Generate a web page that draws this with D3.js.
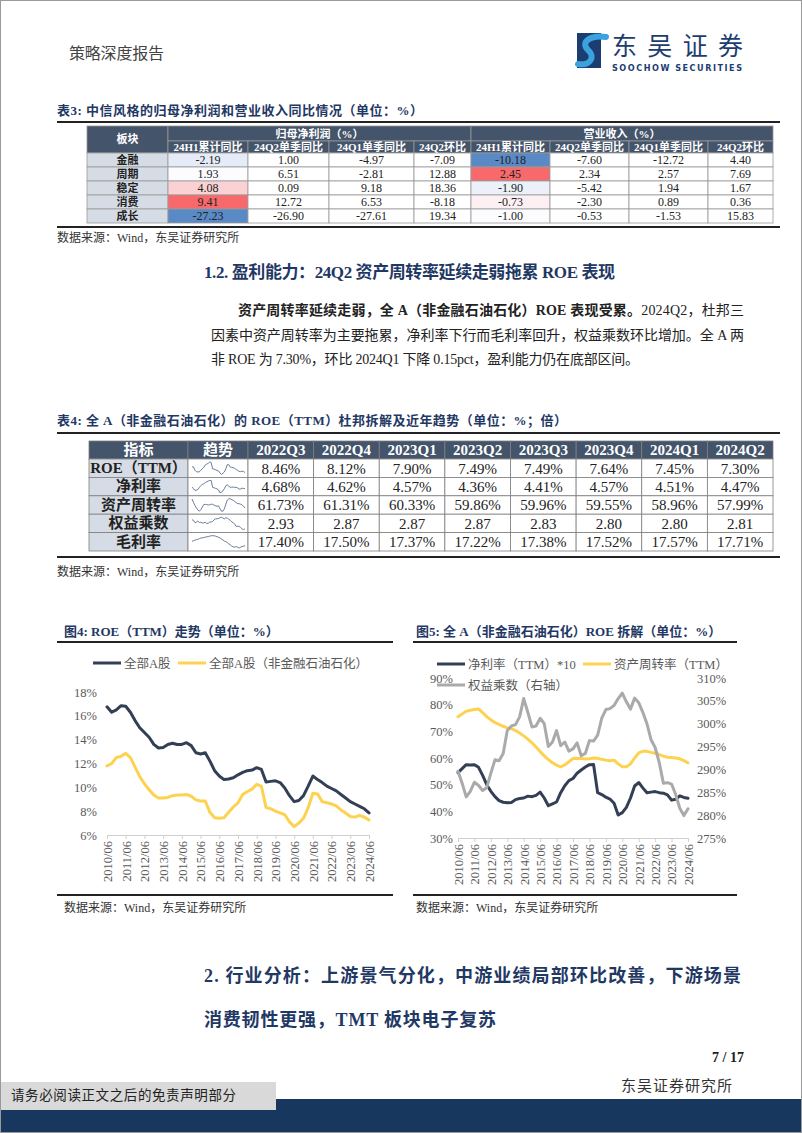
<!DOCTYPE html>
<html><head><meta charset="utf-8">
<script src="https://cdn.jsdelivr.net/npm/d3@7"></script>
<style>body{margin:0;background:#fff}svg{display:block}</style>
</head><body>
<svg id="page" width="802" height="1133"></svg>
<script>
// ================= DATA =================
// Table 3
const t3Boards = ["金融","周期","稳定","消费","成长"];
const t3Groups = ["归母净利润（%）","营业收入（%）"];
const t3SubHeads = ["24H1累计同比","24Q2单季同比","24Q1单季同比","24Q2环比"];
const profit24H1 = [-2.19, 1.93, 4.08, 9.41, -27.23];
const profit24Q2yoy = [1.00, 6.51, 0.09, 12.72, -26.90];
const profit24Q1yoy = [-4.97, -2.81, 9.18, 6.53, -27.61];
const profit24Q2qoq = [-7.09, 12.88, 18.36, -8.18, 19.34];
const rev24H1 = [-10.18, 2.45, -1.90, -0.73, -1.00];
const rev24Q2yoy = [-7.60, 2.34, -5.42, -2.30, -0.53];
const rev24Q1yoy = [-12.72, 2.57, 1.94, 0.89, -1.53];
const rev24Q2qoq = [4.40, 7.69, 1.67, 0.36, 15.83];

// Table 4
const t4Periods = ["2022Q3","2022Q4","2023Q1","2023Q2","2023Q3","2023Q4","2024Q1","2024Q2"];
const t4Indicators = ["ROE（TTM）","净利率","资产周转率","权益乘数","毛利率"];
const t4Roe = [8.46, 8.12, 7.90, 7.49, 7.49, 7.64, 7.45, 7.30];
const t4NetMargin = [4.68, 4.62, 4.57, 4.36, 4.41, 4.57, 4.51, 4.47];
const t4AssetTurn = [61.73, 61.31, 60.33, 59.86, 59.96, 59.55, 58.96, 57.99];
const t4EquityMult = [2.93, 2.87, 2.87, 2.87, 2.83, 2.80, 2.80, 2.81];
const t4GrossMargin = [17.40, 17.50, 17.37, 17.22, 17.38, 17.52, 17.57, 17.71];
// gross margin trend (2015Q2-2024Q2, estimated from sparkline)
const grossTrend = [18.6,18.65,18.8,18.9,18.95,19.1,19.2,19.25,19.3,19.4,19.45,19.5,19.6,19.65,19.7,19.65,19.6,19.5,19.35,19.25,19.0,18.85,18.6,18.5,18.3,18.05,17.85,17.6,17.45,17.40,17.50,17.37,17.22,17.38,17.52,17.57,17.71];

// Charts (quarterly 2010/06 - 2024/06)
const yearLabels = ["2010/06","2011/06","2012/06","2013/06","2014/06","2015/06","2016/06","2017/06","2018/06","2019/06","2020/06","2021/06","2022/06","2023/06","2024/06"];
const roeAll = [16.76,16.3,16.5,16.85,16.8,16.3,15.6,15.0,14.6,14.2,13.6,13.3,13.35,13.6,13.7,13.6,13.6,13.75,13.5,12.9,12.8,12.9,12.2,11.4,10.95,10.65,10.7,10.8,11.05,11.25,11.4,11.45,11.65,11.5,10.45,10.5,10.55,10.4,9.95,9.3,8.8,8.9,9.3,10.1,10.95,10.65,10.4,10.1,9.9,9.7,9.4,9.1,8.8,8.6,8.4,8.2,7.85];
const roeExFin = [11.8,12.0,12.5,12.6,12.85,12.5,11.7,10.9,10.3,9.8,9.35,9.1,9.1,9.15,9.3,9.35,9.35,9.4,9.25,8.95,8.85,8.85,7.9,7.45,7.4,7.45,7.9,8.35,8.7,9.4,9.65,9.85,10.25,10.1,8.3,8.2,8.0,7.85,7.7,7.1,6.7,7.0,7.4,8.3,9.5,9.45,8.8,8.7,8.6,8.45,8.1,7.85,7.55,7.5,7.65,7.5,7.25];
const netMargin10 = [54.5,56,57.5,57.4,57.5,56.5,53.5,50,47.5,45.5,44.0,43.4,43.2,43.3,44.4,44.8,45.0,45.7,45.5,46.0,47.2,45.0,42.1,42.8,43.5,47.0,49.6,51.5,52.3,54.3,55.5,56.6,57.5,57.6,47.0,46.3,45.3,44.6,43.0,38.6,39.5,41.5,45.0,49.5,50.8,48.8,47.0,47.2,47.4,47.0,46.8,46.2,44.2,44.5,45.8,45.2,44.9];
const assetTurn = [75.5,76.5,77.5,77.9,78.2,78.4,77.0,75.5,74.3,73.3,72.6,71.9,71.3,71.0,70.3,69.4,68.3,67.1,65.7,64.1,62.4,60.8,59.4,58.2,57.3,56.7,57.4,58.6,59.8,59.9,59.8,59.6,59.7,60.0,59.9,59.5,59.2,59.0,59.2,57.8,56.7,56.7,57.8,60.0,61.9,62.5,62.5,62.1,61.8,61.3,60.7,60.3,60.2,60.0,59.7,59.0,58.2];
const equityMult = [289.6,287.0,284.0,285.2,287.2,286.5,285.4,286.0,289.2,292.1,291.9,293.5,298.5,299.5,299.8,301.5,305.5,302.5,299.3,299.5,301.2,300.0,295.0,296.0,298.5,295.2,296.0,294.0,294.5,295.8,293.0,293.5,296.3,296.2,297.5,301.2,303.1,303.3,304.0,305.5,306.7,304.8,303.2,305.6,304.6,302.5,300.0,296.5,294.8,291.5,287.0,287.1,286.8,284.5,281.5,279.9,281.4];
const yTicks4 = [6,8,10,12,14,16,18];
const yTicks5L = [30,40,50,60,70,80,90];
const yTicks5R = [275,280,285,290,295,300,305,310];

// ================= HELPERS =================
const SERIF = "'Liberation Serif','Noto Sans CJK SC',serif";
const NAVY = "#1f3864";
const DARK = "#333f55", YEL = "#fdd250", GRAY = "#aaaaaa", AXC = "#595959";
const svg = d3.select("#page");

function txt(x, y, s, o = {}) {
  const t = svg.append("text").attr("x", x).attr("y", y).text(s)
    .attr("font-family", o.font || SERIF).attr("font-size", o.size || 12)
    .attr("fill", o.fill || "#222").attr("font-weight", o.bold ? "bold" : "normal")
    .attr("text-anchor", o.anchor || "start");
  if (o.len) t.attr("textLength", o.len).attr("lengthAdjust", "spacing");
  return t;
}
function hline(x1, x2, y, w = 2, c = "#222") {
  svg.append("line").attr("x1", x1).attr("x2", x2).attr("y1", y).attr("y2", y)
    .attr("stroke", c).attr("stroke-width", w);
}
const hy = s => s.replace(/\u2212/g, "-");

// ================= PAGE FRAME / HEADER =================
svg.append("rect").attr("x", 0.5).attr("y", 0.5).attr("width", 801).attr("height", 1132)
  .attr("fill", "none").attr("stroke", "#9a9a9a");
txt(69, 59, "策略深度报告", { size: 16, fill: "#444", len: 95 });
// logo
svg.append("rect").attr("x", 577).attr("y", 33).attr("width", 24).attr("height", 35).attr("fill", "#1c3d72");
svg.append("path").attr("d", "M606 37 C590 35 580 42 588 50 C596 57 590 66 578 64")
  .attr("fill", "none").attr("stroke", "#3aa3de").attr("stroke-width", 6).attr("stroke-linecap", "round");
txt(612, 55, "东吴证券", { size: 25, fill: "#1c3d72", font: "'Noto Sans CJK SC',sans-serif", len: 131 });
txt(612, 71, "SOOCHOW SECURITIES", { size: 9, bold: true, fill: "#1c3d72", font: "'DejaVu Sans Condensed','DejaVu Sans',sans-serif", len: 130 });

// ================= TABLE 3 =================
txt(57, 115, "表3:  中信风格的归母净利润和营业收入同比情况（单位：%）", { size: 13, bold: true, fill: NAVY, len: 366 });
hline(57, 780, 122, 2);
{
  const cols = [87, 168, 248, 329, 414, 471, 550, 629, 708, 773];
  const top = 126, h1 = 15, h2 = 12, rh = 14;
  const HEAD = "#44546a", LAB = "#d6dce5", BOR = "#9a9a9a";
  const g = svg.append("g");
  const cell = (x, y, w, h, fill) => g.append("rect").attr("x", x).attr("y", y).attr("width", w).attr("height", h)
    .attr("fill", fill).attr("stroke", BOR).attr("stroke-width", 0.8);
  const ct = (x, y, s, o) => txt(x, y, s, Object.assign({ anchor: "middle" }, o));
  cell(cols[0], top, cols[1] - cols[0], h1 + h2, HEAD);
  ct((cols[0] + cols[1]) / 2, top + 17, "板块", { size: 11, bold: true, fill: "#fff" });
  t3Groups.forEach((gname, gi) => {
    const x0 = cols[1 + gi * 4], x1 = cols[5 + gi * 4];
    cell(x0, top, x1 - x0, h1, HEAD);
    ct((x0 + x1) / 2, top + 11.5, gname, { size: 11, bold: true, fill: "#fff" });
    t3SubHeads.forEach((s, si) => {
      const a = cols[1 + gi * 4 + si], b = cols[2 + gi * 4 + si];
      cell(a, top + h1, b - a, h2, HEAD);
      ct((a + b) / 2, top + h1 + 10, s, { size: 11, bold: true, fill: "#fff" });
    });
  });
  const colData = [profit24H1, profit24Q2yoy, profit24Q1yoy, profit24Q2qoq, rev24H1, rev24Q2yoy, rev24Q1yoy, rev24Q2qoq];
  const colorScale = arr => d3.scaleLinear().domain([d3.min(arr), d3.median(arr), d3.max(arr)])
    .range(["#5a8ac6", "#fcfcff", "#f8696b"]);
  const scales = { 0: colorScale(profit24H1), 4: colorScale(rev24H1) };
  const fmt = d3.format(".2f");
  t3Boards.forEach((b, ri) => {
    const y = top + h1 + h2 + ri * rh;
    cell(cols[0], y, cols[1] - cols[0], rh, LAB);
    ct((cols[0] + cols[1]) / 2, y + 11, b, { size: 11, bold: true, fill: "#222" });
    colData.forEach((arr, ci) => {
      const fill = scales[ci] ? scales[ci](arr[ri]) : "#fff";
      cell(cols[ci + 1], y, cols[ci + 2] - cols[ci + 1], rh, fill);
      ct((cols[ci + 1] + cols[ci + 2]) / 2, y + 11, hy(fmt(arr[ri])), { size: 12, fill: "#222" });
    });
  });
}
hline(57, 780, 227, 2);
txt(57, 242, "数据来源：Wind，东吴证券研究所", { size: 12, fill: "#333" });

// ================= SECTION 1.2 =================
txt(204, 278, "1.2.  盈利能力：24Q2 资产周转率延续走弱拖累 ROE 表现", { size: 17, bold: true, fill: NAVY, len: 411 });
{
  const t = svg.append("text").attr("x", 238).attr("y", 315).attr("font-family", SERIF).attr("font-size", 14).attr("fill", "#222")
    .attr("textLength", 506).attr("lengthAdjust", "spacing");
  t.append("tspan").attr("font-weight", "bold").text("资产周转率延续走弱，全 A（非金融石油石化）ROE 表现受累。");
  t.append("tspan").text("2024Q2，杜邦三");
}
txt(211, 340, "因素中资产周转率为主要拖累，净利率下行而毛利率回升，权益乘数环比增加。全 A 两", { size: 14, len: 533 });
txt(211, 364, "非 ROE 为 7.30%，环比 2024Q1 下降 0.15pct，盈利能力仍在底部区间。", { size: 14, len: 428 });

// ================= TABLE 4 =================
txt(57, 425, "表4:  全 A（非金融石油石化）的 ROE（TTM）杜邦拆解及近年趋势（单位：%；倍）", { size: 13, bold: true, fill: NAVY, len: 510 });
hline(57, 780, 433, 2);
{
  const x0 = 89, labW = 99, trW = 60, x2 = 248, x3 = 773;
  const top = 441, hh = 18, rh = 18.4;
  const HEAD = "#44546a", LAB = "#d6dce5", BOR = "#7f7f7f";
  const xs = d3.scaleBand().domain(t4Periods).range([x2, x3]);
  const g = svg.append("g");
  const cell = (x, y, w, h, fill) => g.append("rect").attr("x", x).attr("y", y).attr("width", w).attr("height", h)
    .attr("fill", fill).attr("stroke", BOR).attr("stroke-width", 0.8);
  const ct = (x, y, s, o) => txt(x, y, s, Object.assign({ anchor: "middle" }, o));
  cell(x0, top, labW, hh, HEAD); ct(x0 + labW / 2, top + 14, "指标", { size: 15, bold: true, fill: "#fff" });
  cell(x0 + labW, top, trW, hh, HEAD); ct(x0 + labW + trW / 2, top + 14, "趋势", { size: 15, bold: true, fill: "#fff" });
  t4Periods.forEach(p => { cell(xs(p), top, xs.bandwidth(), hh, HEAD); ct(xs(p) + xs.bandwidth() / 2, top + 14, p, { size: 15, bold: true, fill: "#fff" }); });
  const rows = [
    { vals: t4Roe, f: d => d3.format(".2f")(d) + "%", trend: roeExFin.slice(20) },
    { vals: t4NetMargin, f: d => d3.format(".2f")(d) + "%", trend: netMargin10.slice(20) },
    { vals: t4AssetTurn, f: d => d3.format(".2f")(d) + "%", trend: assetTurn.slice(20) },
    { vals: t4EquityMult, f: d3.format(".2f"), trend: equityMult.slice(20) },
    { vals: t4GrossMargin, f: d => d3.format(".2f")(d) + "%", trend: grossTrend }
  ];
  rows.forEach((r, ri) => {
    const y = top + hh + ri * rh;
    cell(x0, y, labW, rh, LAB);
    ct(x0 + labW / 2, y + 14, t4Indicators[ri], { size: 15, bold: true, fill: "#222" });
    cell(x0 + labW, y, trW, rh, "#fff");
    const sx = d3.scaleLinear().domain([0, r.trend.length - 1]).range([x0 + labW + 4, x0 + labW + trW - 3]);
    const sy = d3.scaleLinear().domain(d3.extent(r.trend)).range([y + rh - 3, y + 3]);
    g.append("path").attr("d", d3.line().x((d, i) => sx(i)).y(d => sy(d))(r.trend))
      .attr("fill", "none").attr("stroke", "#5a6e8c").attr("stroke-width", 0.9);
    t4Periods.forEach((p, ci) => {
      cell(xs(p), y, xs.bandwidth(), rh, "#fff");
      ct(xs(p) + xs.bandwidth() / 2, y + 14.5, r.f(r.vals[ci]), { size: 15, fill: "#222" });
    });
  });
}
hline(57, 780, 557, 2);
txt(57, 576, "数据来源：Wind，东吴证券研究所", { size: 12, fill: "#333" });

// ================= CHART helpers =================
function xAxis(g, x, y0) {
  const ax = d3.axisBottom(x).tickValues(d3.range(0, roeAll.length, 4))
    .tickFormat((d, i) => yearLabels[i]).tickSize(4).tickPadding(0);
  const a = g.append("g").attr("transform", `translate(0,${y0})`).call(ax);
  a.select(".domain").attr("stroke", "#d0d0d0");
  a.selectAll(".tick line").attr("stroke", "#d0d0d0");
  a.selectAll("text").attr("transform", "rotate(-90)").attr("x", -6).attr("y", 0).attr("dy", "0.35em")
    .style("text-anchor", "end").attr("font-family", SERIF).attr("font-size", 12.5).attr("fill", AXC);
}
function yAxis(g, y, ticks, xpos, left) {
  const ax = (left ? d3.axisLeft(y) : d3.axisRight(y)).tickValues(ticks).tickFormat(d => d + "%").tickSize(0).tickPadding(0);
  const a = g.append("g").attr("transform", `translate(${xpos},0)`).call(ax);
  a.select(".domain").remove();
  a.selectAll("text").attr("font-family", SERIF).attr("font-size", 12.5).attr("fill", AXC);
}
function legendItem(g, x, y, color, label) {
  g.append("line").attr("x1", x).attr("x2", x + 28).attr("y1", y).attr("y2", y).attr("stroke", color).attr("stroke-width", 3);
  g.append("text").attr("x", x + 31).attr("y", y + 4.5).text(label).attr("font-family", SERIF)
    .attr("font-size", 12.5).attr("fill", AXC);
}
function series(g, x, y, arr, color) {
  g.append("path").attr("d", d3.line().x((d, i) => x(i)).y(d => y(d))(arr))
    .attr("fill", "none").attr("stroke", color).attr("stroke-width", 3).attr("stroke-linejoin", "round").attr("stroke-linecap", "round");
}

// ================= CHART 4 =================
txt(64, 636, "图4:  ROE（TTM）走势（单位：%）", { size: 13, bold: true, fill: NAVY });
hline(57, 393, 642, 2);
{
  const g = svg.append("g");
  const x = d3.scaleLinear().domain([0, roeAll.length - 1]).range([107, 369]);
  const y = d3.scaleLinear().domain([6, 18]).range([835, 692]);
  legendItem(g, 93, 663, DARK, "全部A股");
  legendItem(g, 178, 663, YEL, "全部A股（非金融石油石化）");
  yAxis(g, y, yTicks4, 97, true);
  xAxis(g, x, 835);
  series(g, x, y, roeAll, DARK);
  series(g, x, y, roeExFin, YEL);
}
hline(57, 393, 895, 2);
txt(64, 912, "数据来源：Wind，东吴证券研究所", { size: 12, fill: "#333" });

// ================= CHART 5 =================
txt(416, 636, "图5:  全 A（非金融石油石化）ROE 拆解（单位：%）", { size: 13, bold: true, fill: NAVY });
hline(413, 737, 642, 2);
{
  const g = svg.append("g");
  const x = d3.scaleLinear().domain([0, netMargin10.length - 1]).range([458, 688]);
  const yL = d3.scaleLinear().domain([30, 90]).range([838, 678]);
  const yR = d3.scaleLinear().domain([275, 310]).range([838, 678]);
  legendItem(g, 437, 664, DARK, "净利率（TTM）*10");
  legendItem(g, 583, 664, YEL, "资产周转率（TTM）");
  legendItem(g, 437, 685, GRAY, "权益乘数（右轴）");
  yAxis(g, yL, yTicks5L, 453, true);
  yAxis(g, yR, yTicks5R, 697, false);
  xAxis(g, x, 838);
  series(g, x, yL, netMargin10, DARK);
  series(g, x, yL, assetTurn, YEL);
  series(g, x, yR, equityMult, GRAY);
}
hline(413, 737, 895, 2);
txt(416, 912, "数据来源：Wind，东吴证券研究所", { size: 12, fill: "#333" });

// ================= SECTION 2 =================
txt(204, 982, "2.  行业分析：上游景气分化，中游业绩局部环比改善，下游场景", { size: 18, bold: true, fill: NAVY, len: 537 });
txt(204, 1026, "消费韧性更强，TMT 板块电子复苏", { size: 18, bold: true, fill: NAVY, len: 292 });

// ================= FOOTER =================
txt(744, 1062, "7  /  17", { size: 14, bold: true, fill: "#222", anchor: "end" });
txt(621, 1091, "东吴证券研究所", { size: 15, fill: "#333", len: 111 });
svg.append("rect").attr("x", 1).attr("y", 1099).attr("width", 800).attr("height", 33).attr("fill", "#17375e");
svg.append("rect").attr("x", 1).attr("y", 1082).attr("width", 275).attr("height", 28).attr("fill", "#d9d9d9");
txt(11, 1100, "请务必阅读正文之后的免责声明部分", { size: 13.5, fill: "#222", len: 225 });
</script>
</body></html>
